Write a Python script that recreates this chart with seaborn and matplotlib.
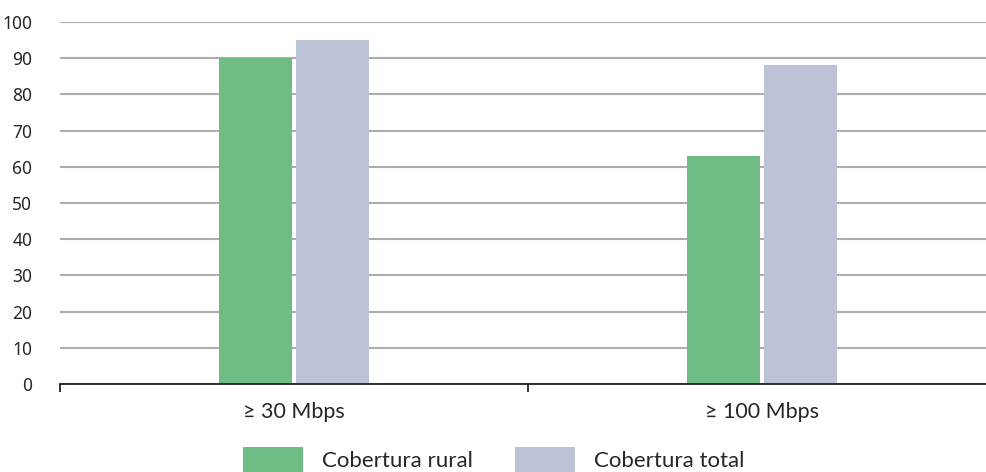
import matplotlib
matplotlib.use("Agg")
import matplotlib.pyplot as plt
import seaborn as sns
import pandas as pd
from matplotlib.ticker import FixedLocator

categories = ["≥ 30 Mbps", "≥ 100 Mbps"]
series_names = ["Cobertura rural", "Cobertura total"]
rural = [90, 63]
total = [95, 88]
yticks = [0, 10, 20, 30, 40, 50, 60, 70, 80, 90, 100]
colors = ["#6FBD85", "#BDC3D6"]

df = pd.DataFrame({
    "cat": categories * 2,
    "serie": [series_names[0]] * 2 + [series_names[1]] * 2,
    "val": rural + total,
})

sns.set_theme(style="white")
plt.rcParams["font.family"] = ["Lato", "DejaVu Sans"]

fig = plt.figure(figsize=(9.87, 4.72), dpi=100)
W, H = 987, 472
ax = fig.add_axes([60 / W, 1 - 384 / H, (996 - 60) / W, (384 - 22) / H])

sns.barplot(data=df, x="cat", y="val", hue="serie", palette=colors,
            width=0.33, gap=0.053, ax=ax, legend=True, saturation=1, linewidth=0)

ax.set_xlim(-0.5, 1.5)
ax.set_ylim(0, 100)
ax.set_yticks(yticks)
ax.set_yticklabels([str(v) for v in yticks], fontsize=12.5, family=["Noto Sans", "DejaVu Sans"])
ax.yaxis.grid(True, color="#adadad", linewidth=1.5)
ax.set_axisbelow(True)
ax.tick_params(axis="y", length=0, pad=20)
ax.set_xticks([0, 1])
ax.set_xticklabels(categories, fontsize=15.5)
ax.xaxis.set_minor_locator(FixedLocator([-0.5, 0.5, 1.5]))
ax.tick_params(axis="x", which="major", length=0, pad=13)
ax.tick_params(axis="x", which="minor", length=6, width=1.3, color="#222222", bottom=True)
for s in ["top", "right", "left"]:
    ax.spines[s].set_visible(False)
ax.spines["bottom"].set_color("#222222")
ax.spines["bottom"].set_linewidth(1.3)
ax.set_xlabel("")
ax.set_ylabel("")

handles, labels = ax.get_legend_handles_labels()
ax.get_legend().remove()
fig.legend(handles, labels, loc="upper center", bbox_to_anchor=(0.5, 1 - 447 / H),
           ncol=2, frameon=False, fontsize=16, handlelength=2.7, handleheight=1.4,
           handletextpad=0.85, columnspacing=1.9, borderpad=0, borderaxespad=0)

fig.savefig("out.png", dpi=100)
